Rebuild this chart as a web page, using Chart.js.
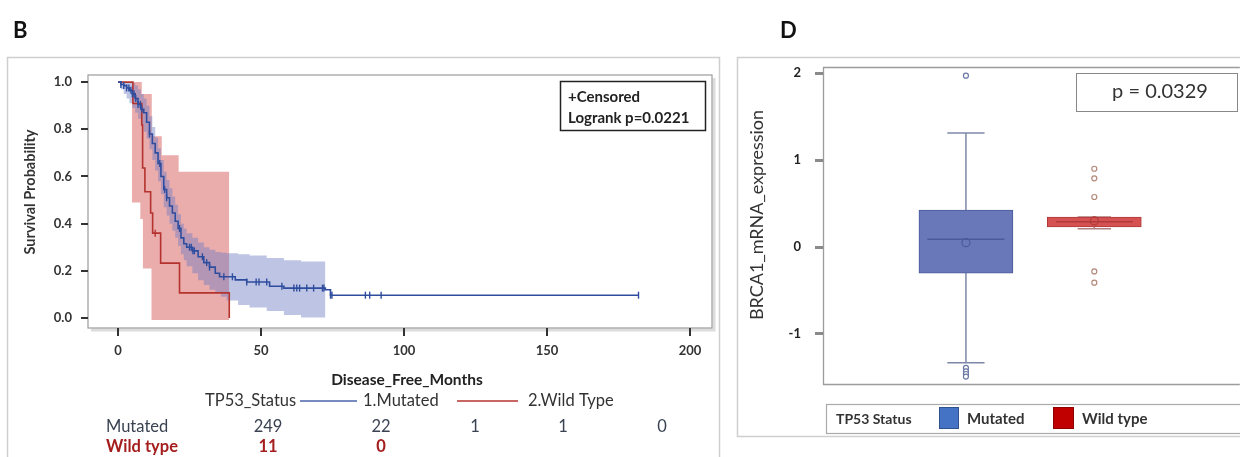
<!DOCTYPE html>
<html><head><meta charset="utf-8">
<script src="https://cdn.jsdelivr.net/npm/chart.js@4.4.0/dist/chart.umd.min.js"></script>
<style>
html,body{margin:0;padding:0;background:#fff;width:1240px;height:457px;overflow:hidden}
#km{position:absolute;left:0;top:0}
#bx{position:absolute;left:730px;top:0}
</style></head><body>
<canvas id="km" width="730" height="457"></canvas>
<canvas id="bx" width="510" height="457"></canvas>
<script>
// ---------------- Panel B data (Kaplan-Meier) ----------------
const kmXTicks = [0, 50, 100, 150, 200];
const kmYTicks = [0, 0.2, 0.4, 0.6, 0.8, 1.0];

const mutTime = [0,1,2,3,4,5,6,7,8,9,10,11,12,13,14,15,16,17,18,19,20,21,22,23,24,26,28,30,32,34,35.5,41,45,53,58,72.5,74.3,182];
const mutSurv = [1,.99,.985,.975,.965,.95,.93,.905,.885,.87,.83,.78,.74,.70,.655,.60,.545,.51,.475,.445,.41,.38,.34,.315,.30,.285,.26,.235,.216,.19,.175,.162,.153,.135,.127,.12,.097,.097];
const mutCensored = [1,2,3,3.8,4.5,5,5.6,6.2,7,7.8,8.3,11,14.6,16.3,17,21.5,25,25.6,26.2,26.7,29.5,31,32,37,40,45,48.3,49.3,52,57.3,61.5,62.5,63.5,66,68.4,71.5,72,74.3,74.8,86.5,88,92,182];

const mutBandTime  = [0,1,2,3,4,5,6,7,8,9,10,11,12,13,14,15,16,17,18,19,20,21,22,23,24,26,28,30,32,34,36,38,42,46,52,58,64,72.5];
const mutBandUpper = [1,1,1,1,1,.995,.985,.97,.95,.93,.9,.855,.81,.765,.72,.67,.62,.585,.55,.515,.48,.44,.40,.38,.36,.34,.32,.30,.29,.28,.277,.275,.27,.265,.255,.245,.24,.235];
const mutBandLower = [1,.97,.95,.93,.91,.89,.87,.845,.82,.79,.76,.715,.67,.625,.58,.525,.47,.435,.40,.37,.34,.305,.27,.245,.22,.19,.16,.14,.12,.105,.09,.075,.055,.045,.03,.013,.003,-.01];

const wtTime = [0,5.2,8.3,8.6,9.4,11.4,12.1,14.9,21.5,38.9];
const wtSurv = [1,.909,.818,.636,.535,.445,.36,.233,.107,0];
const wtCensored = [13];

const wtBandTime  = [0,4.9,7.8,8.3,8.7,11.7,11.8,15.3,21.2,38.9];
const wtBandUpper = [1,1,1,.95,.95,.95,.77,.69,.62,.62];
const wtBandLower = [1,.49,.42,.42,.21,-.008,-.008,-.008,-.008,-.008];

const riskMutated = [249, 22, 1, 1, 0];
const riskWild = [11, 0];

// ---------------- Panel D data (box plot) ----------------
const boxGroups = ['Mutated', 'Wild type'];
const boxMin    = [-1.33, 0.21];
const boxQ1     = [-0.30, 0.23];
const boxMedian = [0.09, 0.29];
const boxQ3     = [0.425, 0.345];
const boxMax    = [1.31, 0.345];
const boxMean   = [0.05, 0.30];
const outMutated = [1.97, -1.39, -1.43, -1.46, -1.49];
const outWild    = [0.90, 0.79, 0.575, -0.28, -0.41];
const boxYTicks = [-1, 0, 1, 2];

// ---------------- helpers / styles ----------------
const FONT = "Lato, 'Open Sans', sans-serif";
const riskColX = [268, 381, 475, 563, 662];
function pts(xs, ys){ return xs.map((x,i)=>({x:x, y:ys[i]})); }
function survAt(times, surv, t){ let v = surv[0]; for (let i=0;i<times.length;i++){ if (times[i] <= t) v = surv[i]; } return v; }

// ---------------- Panel B chart ----------------
const kmDecor = {
  id: 'kmDecor',
  beforeDraw(chart){
    const ctx = chart.ctx, a = chart.chartArea;
    ctx.save();
    ctx.fillStyle = '#fff'; ctx.fillRect(0,0,chart.width,chart.height);
    ctx.strokeStyle = '#cfcfcf'; ctx.lineWidth = 1.5; ctx.strokeRect(7.5, 57.5, 712, 430);
    ctx.strokeStyle = '#dcdcdc'; ctx.lineWidth = 3;
    ctx.beginPath(); ctx.moveTo(a.right+2, a.top+3); ctx.lineTo(a.right+2, a.bottom+2); ctx.lineTo(a.left+3, a.bottom+2); ctx.stroke();
    ctx.strokeStyle = '#9c9c9c'; ctx.lineWidth = 1.2;
    ctx.strokeRect(a.left, a.top, a.right-a.left, a.bottom-a.top);
    ctx.restore();
  },
  afterDraw(chart){
    const ctx = chart.ctx;
    ctx.save();
    ctx.fillStyle = '#111'; ctx.font = 'bold 22px ' + FONT; ctx.textBaseline = 'middle'; ctx.textAlign = 'left';
    ctx.fillText('B', 13, 31);
    // y title
    ctx.save(); ctx.translate(30, 192); ctx.rotate(-Math.PI/2);
    ctx.font = 'bold 14.5px ' + FONT; ctx.fillStyle = '#333'; ctx.textAlign = 'center';
    ctx.fillText('Survival Probability', 0, 0); ctx.restore();
    // inset box
    ctx.strokeStyle = '#222'; ctx.lineWidth = 1.5; ctx.strokeRect(560.5, 81.5, 145, 49);
    ctx.fillStyle = '#222'; ctx.font = 'bold 15px ' + FONT; ctx.textAlign = 'left';
    ctx.fillText('+Censored', 568, 97);
    ctx.fillText('Logrank p=0.0221', 568, 118);
    // x title
    ctx.font = 'bold 15.5px ' + FONT; ctx.textAlign = 'center'; ctx.fillStyle = '#222';
    ctx.fillText('Disease_Free_Months', 407, 380);
    // legend row
    ctx.font = '16.5px ' + FONT; ctx.fillStyle = '#333'; ctx.textAlign = 'left';
    ctx.fillText('TP53_Status', 205, 401);
    ctx.strokeStyle = '#4a64ad'; ctx.lineWidth = 1.6;
    ctx.beginPath(); ctx.moveTo(300, 401); ctx.lineTo(357, 401); ctx.stroke();
    ctx.fillText('1.Mutated', 363, 401);
    ctx.strokeStyle = '#b5332e';
    ctx.beginPath(); ctx.moveTo(457, 401); ctx.lineTo(518, 401); ctx.stroke();
    ctx.fillText('2.Wild Type', 528, 401);
    // risk table
    ctx.font = '16.5px ' + FONT; ctx.fillStyle = '#3a4252'; ctx.textAlign = 'left';
    ctx.fillText('Mutated', 106, 427);
    ctx.textAlign = 'center';
    riskMutated.forEach((v,i)=>ctx.fillText(String(v), riskColX[i], 427));
    ctx.font = 'bold 16.5px ' + FONT; ctx.fillStyle = '#a51d1d'; ctx.textAlign = 'left';
    ctx.fillText('Wild type', 106, 447);
    ctx.textAlign = 'center';
    riskWild.forEach((v,i)=>ctx.fillText(String(v), riskColX[i], 447));
    ctx.restore();
  }
};

new Chart(document.getElementById('km'), {
  type: 'line',
  data: { datasets: [
    { label:'wtUpper', data: pts(wtBandTime, wtBandUpper), stepped:'before', borderWidth:0, pointRadius:0, fill:false, order:9 },
    { label:'wtLower', data: pts(wtBandTime, wtBandLower), stepped:'before', borderWidth:0, pointRadius:0, fill:'-1', backgroundColor:'rgba(215,90,90,0.5)', order:8 },
    { label:'mutUpper', data: pts(mutBandTime, mutBandUpper), stepped:'before', borderWidth:0, pointRadius:0, fill:false, order:7 },
    { label:'mutLower', data: pts(mutBandTime, mutBandLower), stepped:'before', borderWidth:0, pointRadius:0, fill:'-1', backgroundColor:'rgba(110,125,195,0.45)', order:6 },
    { label:'2.Wild Type', data: pts(wtTime, wtSurv), stepped:'before', borderColor:'#b5332e', borderWidth:1.6, pointRadius:0, fill:false, order:4 },
    { label:'1.Mutated', data: pts(mutTime, mutSurv), stepped:'before', borderColor:'#2f4d9e', borderWidth:1.6, pointRadius:0, fill:false, order:3 },
    { label:'wtCens', data: wtCensored.map(t=>({x:t, y:survAt(wtTime, wtSurv, t)})), showLine:false, pointStyle:'line', rotation:90, pointRadius:3.5, borderColor:'#b5332e', borderWidth:1.4, order:2 },
    { label:'mutCens', data: mutCensored.map(t=>({x:t, y:survAt(mutTime, mutSurv, t)})), showLine:false, pointStyle:'line', rotation:90, pointRadius:3.5, borderColor:'#2f4d9e', borderWidth:1.4, order:1 }
  ]},
  options: {
    responsive:false, animation:false, events:[],
    layout:{ padding:{ left:38, top:75, right:18, bottom:89 } },
    plugins:{ legend:{display:false}, tooltip:{enabled:false} },
    scales:{
      x:{ type:'linear', min:-10.5, max:207.7,
          afterBuildTicks:(s)=>{ s.ticks = kmXTicks.map(v=>({value:v})); },
          afterFit:(s)=>{ s.height = 40; },
          border:{display:false},
          grid:{ drawOnChartArea:false, tickLength:8, color:'#333', lineWidth:2 },
          ticks:{ padding:7, color:'#333', font:{ family:FONT, size:13, weight:'bold' }, maxRotation:0 } },
      y:{ type:'linear', min:-0.042, max:1.03,
          afterBuildTicks:(s)=>{ s.ticks = kmYTicks.map(v=>({value:v})); },
          afterFit:(s)=>{ s.width = 50; },
          border:{display:false},
          grid:{ drawOnChartArea:false, tickLength:7, color:'#333', lineWidth:2 },
          ticks:{ padding:9, color:'#333', font:{ family:FONT, size:13, weight:'bold' }, callback:(v)=>Number(v).toFixed(1) } }
    }
  },
  plugins:[kmDecor]
});

// ---------------- Panel D chart ----------------
const boxFill = ['#6878b8', '#d65252'];
const boxEdge = ['#4a5a9c', '#b03a3a'];
const whiskerColor = ['#7d88a8', '#b08080'];
const outlierColor = ['#6a78a4', '#b4887a'];
const boxHalf = 0.30, capHalf = [0.145, 0.13];

const bxDatasets = [];
bxDatasets.push({ type:'bar', data: boxGroups.map((g,i)=>({x:i+1, y:[boxQ1[i], boxQ3[i]]})),
  backgroundColor: boxFill, borderColor: boxEdge, borderWidth:1, borderSkipped:false, barThickness:94, order:10 });
boxGroups.forEach((g,i)=>{
  const x = i+1, c = capHalf[i];
  const segs = [
    [[x,boxQ3[i]],[x,boxMax[i]]],
    [[x,boxQ1[i]],[x,boxMin[i]]],
    [[x-c,boxMax[i]],[x+c,boxMax[i]]],
    [[x-c,boxMin[i]],[x+c,boxMin[i]]]
  ];
  segs.forEach(s=>bxDatasets.push({ type:'scatter', showLine:true, data:s.map(p=>({x:p[0],y:p[1]})), borderColor:whiskerColor[i], borderWidth:1.5, pointRadius:0, order:11 }));
  bxDatasets.push({ type:'scatter', showLine:true, data:[{x:x-boxHalf,y:boxMedian[i]},{x:x+boxHalf,y:boxMedian[i]}], borderColor:boxEdge[i], borderWidth:1.5, pointRadius:0, order:5 });
  bxDatasets.push({ type:'scatter', data:[{x:x, y:boxMean[i]}], pointStyle:'circle', pointRadius:4, backgroundColor:'rgba(0,0,0,0)', borderColor:boxEdge[i], borderWidth:1.2, order:4 });
});
bxDatasets.push({ type:'scatter', data: outMutated.map(v=>({x:1, y:v})), pointStyle:'circle', pointRadius:2.5, backgroundColor:'#fff', borderColor:outlierColor[0], borderWidth:1.2, order:3 });
bxDatasets.push({ type:'scatter', data: outWild.map(v=>({x:2, y:v})), pointStyle:'circle', pointRadius:2.5, backgroundColor:'#fff', borderColor:outlierColor[1], borderWidth:1.2, order:3 });

const bxDecor = {
  id:'bxDecor',
  beforeDraw(chart){
    const ctx = chart.ctx, a = chart.chartArea;
    ctx.save();
    ctx.fillStyle = '#fff'; ctx.fillRect(0,0,chart.width,chart.height);
    ctx.strokeStyle = '#cfcfcf'; ctx.lineWidth = 1.5; ctx.strokeRect(7.5, 57.5, 530, 379);
    ctx.strokeStyle = '#9c9c9c'; ctx.lineWidth = 1.3;
    ctx.beginPath(); ctx.moveTo(a.right+5, a.top+0.5); ctx.lineTo(a.left+0.5, a.top+0.5); ctx.lineTo(a.left+0.5, a.bottom+0.5); ctx.lineTo(a.right+5, a.bottom+0.5); ctx.stroke();
    ctx.restore();
  },
  afterDraw(chart){
    const ctx = chart.ctx;
    ctx.save();
    ctx.fillStyle = '#111'; ctx.font = 'bold 22px ' + FONT; ctx.textBaseline = 'middle'; ctx.textAlign = 'left';
    ctx.fillText('D', 50, 31);
    // y title
    ctx.save(); ctx.translate(27, 215); ctx.rotate(-Math.PI/2);
    ctx.font = '18px ' + FONT; ctx.fillStyle = '#333'; ctx.textAlign = 'center';
    ctx.fillText('BRCA1_mRNA_expression', 0, 0); ctx.restore();
    // p-value box
    ctx.fillStyle = '#fff'; ctx.fillRect(346, 73, 161, 38);
    ctx.strokeStyle = '#888'; ctx.lineWidth = 1; ctx.strokeRect(346.5, 73.5, 161, 38);
    ctx.fillStyle = '#333'; ctx.font = '20px ' + FONT; ctx.textAlign = 'center';
    ctx.fillText('p = 0.0329', 430, 92);
    // legend
    ctx.strokeStyle = '#aaa'; ctx.lineWidth = 1.2; ctx.strokeRect(96.5, 404.5, 430, 29);
    ctx.font = 'bold 14px ' + FONT; ctx.fillStyle = '#333'; ctx.textAlign = 'left';
    ctx.fillText('TP53 Status', 106, 419);
    ctx.fillStyle = '#4472c4'; ctx.fillRect(209, 407, 19, 21); ctx.strokeStyle = '#2f528f'; ctx.lineWidth = 1; ctx.strokeRect(209.5, 407.5, 19, 21);
    ctx.fillStyle = '#333'; ctx.font = 'bold 15px ' + FONT;
    ctx.fillText('Mutated', 237, 419);
    ctx.fillStyle = '#c00000'; ctx.fillRect(323, 407, 20, 21); ctx.strokeStyle = '#8f0000'; ctx.strokeRect(323.5, 407.5, 20, 21);
    ctx.fillStyle = '#333';
    ctx.fillText('Wild type', 352, 419);
    ctx.restore();
  }
};

new Chart(document.getElementById('bx'), {
  type:'bar',
  data:{ datasets: bxDatasets },
  options:{
    responsive:false, animation:false, events:[],
    layout:{ padding:{ left:53, top:67, right:0, bottom:73 } },
    plugins:{ legend:{display:false}, tooltip:{enabled:false} },
    scales:{
      x:{ type:'linear', min:0.154, max:2.827, display:false },
      y:{ type:'linear', min:-1.575, max:2.07,
          afterBuildTicks:(s)=>{ s.ticks = boxYTicks.map(v=>({value:v})); },
          afterFit:(s)=>{ s.width = 40; },
          border:{display:false},
          grid:{ drawOnChartArea:false, tickLength:8, color:'#8a8a8a', lineWidth:3 },
          ticks:{ padding:14, color:'#222', font:{ family:FONT, size:13, weight:'bold' } } }
    }
  },
  plugins:[bxDecor]
});
</script></body></html>
